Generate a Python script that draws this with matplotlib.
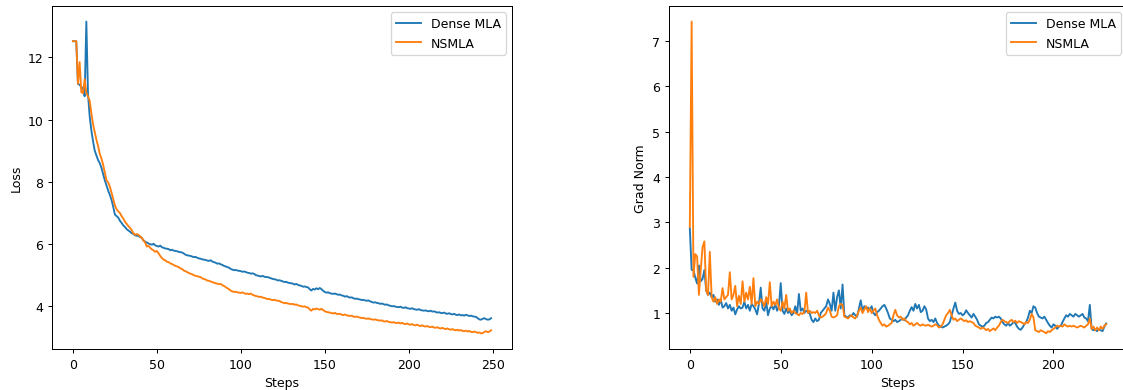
import numpy as np
import matplotlib
matplotlib.use("Agg")
import matplotlib.pyplot as plt

# loss curves, one value per step (0..249)
loss_dense = [
    12.52, 12.52, 12.52, 11.15, 11.12, 11.05, 11.00, 10.75, 13.15, 10.80,
    10.10, 9.65, 9.30, 9.00, 8.85, 8.70, 8.60, 8.45, 8.25, 8.05,
    7.88, 7.72, 7.58, 7.42, 7.20, 6.95, 6.90, 6.85, 6.75, 6.68,
    6.60, 6.55, 6.48, 6.44, 6.40, 6.35, 6.33, 6.28, 6.27, 6.26,
    6.23, 6.20, 6.12, 6.08, 6.05, 6.02, 6.00, 5.98, 6.01, 5.96,
    5.94, 5.92, 5.95, 5.90, 5.88, 5.86, 5.85, 5.84, 5.80, 5.82,
    5.79, 5.78, 5.77, 5.75, 5.74, 5.73, 5.70, 5.66, 5.64, 5.63,
    5.62, 5.60, 5.58, 5.59, 5.56, 5.54, 5.53, 5.51, 5.50, 5.49,
    5.47, 5.46, 5.48, 5.44, 5.42, 5.40, 5.37, 5.38, 5.35, 5.33,
    5.30, 5.28, 5.26, 5.24, 5.20, 5.18, 5.16, 5.17, 5.15, 5.14,
    5.13, 5.11, 5.12, 5.10, 5.08, 5.07, 5.05, 5.06, 5.04, 5.00,
    4.99, 4.97, 4.96, 4.98, 4.95, 4.94, 4.94, 4.92, 4.90, 4.88,
    4.87, 4.86, 4.83, 4.84, 4.82, 4.80, 4.78, 4.79, 4.76, 4.75,
    4.74, 4.73, 4.70, 4.72, 4.69, 4.67, 4.66, 4.63, 4.64, 4.62,
    4.61, 4.55, 4.51, 4.56, 4.54, 4.58, 4.55, 4.59, 4.55, 4.50,
    4.46, 4.44, 4.45, 4.42, 4.41, 4.40, 4.41, 4.39, 4.37, 4.38,
    4.35, 4.34, 4.31, 4.33, 4.30, 4.28, 4.29, 4.26, 4.24, 4.25,
    4.23, 4.22, 4.20, 4.21, 4.19, 4.18, 4.19, 4.16, 4.14, 4.12,
    4.13, 4.11, 4.10, 4.08, 4.09, 4.07, 4.05, 4.06, 4.03, 4.02,
    4.00, 4.01, 3.99, 3.98, 3.97, 3.99, 3.96, 3.95, 3.97, 3.94,
    3.93, 3.92, 3.94, 3.91, 3.90, 3.89, 3.91, 3.88, 3.87, 3.86,
    3.87, 3.85, 3.84, 3.86, 3.83, 3.84, 3.82, 3.80, 3.81, 3.79,
    3.78, 3.80, 3.77, 3.76, 3.78, 3.75, 3.74, 3.76, 3.73, 3.72,
    3.74, 3.71, 3.72, 3.70, 3.73, 3.71, 3.69, 3.70, 3.68, 3.67,
    3.66, 3.62, 3.58, 3.57, 3.60, 3.62, 3.59, 3.57, 3.58, 3.62,
]
loss_nsmla = [
    12.52, 12.52, 12.52, 11.15, 11.85, 10.88, 10.85, 11.30, 10.85, 10.75,
    10.60, 10.20, 9.85, 9.60, 9.35, 9.15, 8.90, 8.75, 8.55, 8.30,
    8.05, 7.98, 7.85, 7.65, 7.45, 7.25, 7.12, 7.05, 7.00, 6.90,
    6.82, 6.72, 6.65, 6.58, 6.52, 6.45, 6.35, 6.30, 6.32, 6.30,
    6.25, 6.20, 6.12, 6.05, 5.92, 5.95, 5.88, 5.83, 5.80, 5.75,
    5.78, 5.70, 5.62, 5.55, 5.50, 5.48, 5.43, 5.42, 5.38, 5.36,
    5.33, 5.30, 5.28, 5.26, 5.22, 5.20, 5.15, 5.13, 5.10, 5.07,
    5.05, 5.03, 5.00, 4.98, 4.97, 4.95, 4.94, 4.90, 4.88, 4.86,
    4.83, 4.82, 4.80, 4.78, 4.76, 4.74, 4.73, 4.71, 4.72, 4.68,
    4.65, 4.62, 4.58, 4.55, 4.50, 4.48, 4.46, 4.47, 4.45, 4.44,
    4.43, 4.45, 4.42, 4.40, 4.41, 4.39, 4.41, 4.37, 4.35, 4.33,
    4.32, 4.30, 4.31, 4.28, 4.27, 4.25, 4.23, 4.24, 4.21, 4.20,
    4.21, 4.19, 4.18, 4.17, 4.14, 4.12, 4.10, 4.11, 4.09, 4.08,
    4.07, 4.08, 4.05, 4.06, 4.03, 4.02, 4.00, 3.99, 4.00, 3.97,
    3.96, 3.90, 3.86, 3.92, 3.90, 3.93, 3.91, 3.89, 3.92, 3.88,
    3.84, 3.82, 3.81, 3.80, 3.78, 3.77, 3.79, 3.76, 3.75, 3.76,
    3.73, 3.72, 3.74, 3.71, 3.70, 3.69, 3.70, 3.67, 3.66, 3.67,
    3.65, 3.64, 3.62, 3.63, 3.61, 3.60, 3.61, 3.59, 3.58, 3.57,
    3.58, 3.56, 3.55, 3.54, 3.55, 3.52, 3.51, 3.53, 3.50, 3.49,
    3.48, 3.49, 3.47, 3.46, 3.48, 3.45, 3.47, 3.44, 3.43, 3.45,
    3.42, 3.41, 3.43, 3.40, 3.39, 3.41, 3.38, 3.37, 3.39, 3.36,
    3.35, 3.37, 3.34, 3.33, 3.35, 3.32, 3.31, 3.33, 3.30, 3.29,
    3.31, 3.28, 3.27, 3.29, 3.26, 3.25, 3.27, 3.24, 3.23, 3.25,
    3.22, 3.24, 3.21, 3.20, 3.22, 3.19, 3.21, 3.18, 3.17, 3.19,
    3.17, 3.15, 3.16, 3.13, 3.14, 3.18, 3.20, 3.17, 3.19, 3.23,
]

# grad norm, one value per step (0..229)
grad_dense = [
    2.87, 1.95, 1.95, 1.78, 1.65, 2.05, 1.70, 1.75, 1.95, 1.50,
    1.40, 1.45, 1.35, 1.40, 1.25, 1.30, 1.18, 1.30, 1.12, 1.15,
    1.22, 1.10, 1.18, 1.05, 1.12, 0.97, 1.08, 1.15, 1.10, 1.12,
    1.25, 1.10, 1.18, 1.05, 1.20, 1.15, 1.08, 0.97, 1.20, 1.56,
    1.10, 1.05, 1.25, 0.95, 1.10, 1.15, 1.08, 1.20, 1.05, 1.15,
    1.66, 1.05, 0.98, 1.10, 1.00, 1.05, 0.95, 1.00, 1.15, 0.98,
    1.42, 1.05, 1.10, 1.00, 1.05, 1.02, 0.98, 0.85, 0.80, 0.88,
    0.82, 0.85, 1.00, 1.05, 1.10, 1.15, 1.30, 1.20, 1.05, 1.45,
    1.05, 1.35, 1.50, 1.10, 1.63, 0.95, 0.92, 0.90, 0.95, 0.93,
    1.00, 0.95, 0.92, 1.10, 1.28, 1.05, 1.15, 1.10, 1.12, 1.07,
    1.15, 1.00, 0.95, 1.02, 1.05, 1.10, 1.15, 1.18, 1.10, 1.00,
    0.88, 0.85, 0.82, 0.85, 0.80, 0.82, 0.85, 0.88, 0.84, 0.90,
    0.95, 1.05, 1.13, 1.05, 1.20, 1.10, 1.18, 1.02, 1.05, 1.15,
    1.08, 0.88, 0.82, 0.85, 0.80, 0.88, 0.78, 0.72, 0.70, 0.68,
    0.70, 0.72, 0.75, 0.80, 0.95, 1.10, 1.23, 1.05, 0.98, 1.00,
    0.95, 0.98, 1.06, 1.00, 0.95, 0.90, 0.98, 0.92, 0.85, 0.75,
    0.72, 0.70, 0.72, 0.78, 0.80, 0.85, 0.90, 0.88, 0.92, 0.90,
    0.92, 0.88, 0.80, 0.75, 0.72, 0.78, 0.72, 0.75, 0.80, 0.78,
    0.70, 0.65, 0.63, 0.68, 0.75, 0.80, 0.90, 1.05, 1.00, 1.15,
    1.12, 1.00, 0.92, 0.90, 0.88, 0.92, 0.85, 0.78, 0.72, 0.68,
    0.75, 0.72, 0.65, 0.70, 0.72, 0.80, 0.88, 0.95, 0.92, 0.98,
    0.95, 0.92, 0.98, 0.95, 0.92, 0.95, 0.98, 0.90, 0.88, 0.82,
    1.18, 0.65, 0.62, 0.63, 0.60, 0.65, 0.62, 0.60, 0.70, 0.77,
]
grad_nsmla = [
    2.90, 7.43, 1.80, 2.30, 2.25, 1.40, 1.95, 2.45, 2.58, 1.50,
    1.40, 2.35, 1.35, 1.25, 1.35, 1.20, 1.30, 1.25, 1.55, 1.30,
    1.35, 1.40, 1.90, 1.30, 1.40, 1.60, 1.15, 1.38, 1.20, 1.70,
    1.25, 1.45, 1.30, 1.58, 1.20, 1.77, 1.15, 1.25, 1.20, 1.30,
    1.25, 1.15, 1.35, 1.20, 1.68, 1.15, 1.25, 1.18, 1.30, 1.10,
    1.05, 1.25, 1.10, 1.40, 1.05, 1.10, 1.00, 1.05, 1.00, 0.98,
    0.95, 1.00, 0.98, 1.02, 1.45, 1.00, 1.05, 1.00, 1.02, 1.00,
    1.05, 0.95, 0.90, 0.92, 0.95, 1.00, 1.12, 1.05, 0.92, 0.90,
    0.92, 0.95, 1.15, 1.20, 1.18, 0.92, 0.90, 0.88, 0.92, 0.95,
    0.90, 0.88, 0.95, 1.05, 1.12, 1.00, 1.08, 1.15, 1.02, 1.10,
    1.00, 1.05, 1.10, 0.95, 0.85, 0.78, 0.72, 0.75, 0.70, 0.72,
    0.75, 0.78, 0.95, 1.07, 0.95, 0.90, 0.92, 0.85, 0.88, 0.82,
    0.80, 0.75, 0.78, 0.72, 0.75, 0.78, 0.74, 0.72, 0.75, 0.73,
    0.72, 0.74, 0.72, 0.70, 0.72, 0.75, 0.73, 0.68, 0.70, 0.75,
    0.85, 0.95, 1.00, 1.07, 0.95, 0.85, 0.88, 0.82, 0.85, 0.88,
    0.85, 0.82, 0.84, 0.80, 0.82, 0.80, 0.78, 0.72, 0.70, 0.68,
    0.65, 0.68, 0.66, 0.62, 0.65, 0.60, 0.63, 0.66, 0.62, 0.68,
    0.72, 0.80, 0.85, 0.82, 0.80, 0.78, 0.82, 0.85, 0.80, 0.83,
    0.78, 0.82, 0.80, 0.78, 0.75, 0.80, 0.78, 0.85, 0.98, 0.90,
    0.62, 0.60, 0.58, 0.62, 0.60, 0.58, 0.55, 0.60, 0.58, 0.62,
    0.65, 0.68, 0.72, 0.70, 0.72, 0.70, 0.75, 0.72, 0.70, 0.72,
    0.70, 0.72, 0.70, 0.68, 0.70, 0.72, 0.70, 0.68, 0.72, 0.75,
    0.88, 0.65, 0.70, 0.62, 0.68, 0.62, 0.70, 0.65, 0.72, 0.75,
]

steps_loss = np.arange(len(loss_dense))
steps_grad = np.arange(len(grad_dense))

# the reference is rendered a bit smaller than 100 dpi, so use 90 dpi
DPI = 90
W, H = 1123, 391
fig = plt.figure(figsize=(W / DPI, H / DPI), dpi=DPI)
# right panel runs off the canvas edge, as in the original crop
ax1 = fig.add_axes([52 / W, 41 / H, 460 / W, 343 / H])
ax2 = fig.add_axes([669 / W, 41 / H, 458 / W, 343 / H])

ax1.plot(steps_loss, loss_dense, label="Dense MLA")
ax1.plot(steps_loss, loss_nsmla, label="NSMLA")
ax1.set_xlabel("Steps")
ax1.set_ylabel("Loss")
ax1.legend(loc="upper right")

ax2.plot(steps_grad, grad_dense, label="Dense MLA")
ax2.plot(steps_grad, grad_nsmla, label="NSMLA")
ax2.set_xlabel("Steps")
ax2.set_ylabel("Grad Norm")
ax2.legend(loc="upper right")

fig.savefig("out.png", dpi=DPI)
